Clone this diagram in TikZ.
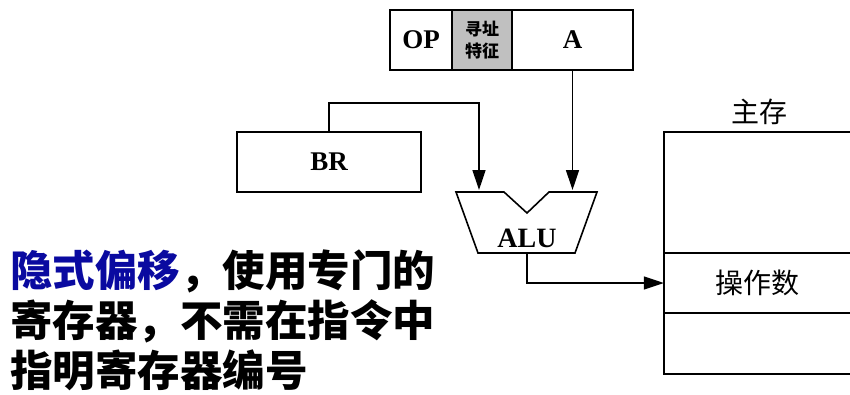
\documentclass[tikz,border=0pt]{standalone}
\usepackage{fontspec}
\setmainfont{Liberation Serif}
\newfontfamily\cjk{Noto Sans CJK SC}
\usetikzlibrary{arrows.meta}
\definecolor{notecolor}{RGB}{10,10,160}
\definecolor{modegray}{RGB}{192,192,192}
\tikzset{
>={Triangle[length=20pt,width=13pt]},
  field/.style={
    rectangle,
    draw=black, line width=1.6pt,
    minimum height=60pt,
    inner sep=0pt,
    font=\fontsize{27}{27}\selectfont\bfseries},
  memline/.style={draw, line width=1.6pt},
  line/.style={draw, line width=1.4pt, ->},
  cjklabel/.style={inner sep=0pt, font=\cjk\fontsize{28}{28}\selectfont},
  note/.style={anchor=base west, inner sep=0pt,
    font=\cjk\bfseries\fontsize{42.5}{42.5}\selectfont},
}
\begin{document}
\begin{tikzpicture}[x=1pt, y=-1pt]
     \useasboundingbox (0,0) rectangle (850,394);
     % instruction word
     \node[field, minimum width=62pt] (OpField) at (421,40) {OP};
     \node[field, minimum width=60pt, fill=modegray, align=center,
           font=\cjk\bfseries\fontsize{17}{22}\selectfont] (ModeField) at (482,40) {寻址\\特征};
     \node[field, minimum width=121pt] (AddrField) at (572.5,40) {A};
     % base register
     \node[field, minimum width=184pt] (BaseReg) at (329,162) {BR};
     % ALU
     \draw[line width=1.6pt] (456,192) -- (504,192) -- (527,213) -- (549,192) -- (597,192)
           -- (575,253) -- (478,253) -- cycle;
     \coordinate (AluInL) at (479,190);
     \coordinate (AluInR) at (572.5,190);
     \coordinate (AluOut) at (527,253);
     \node[inner sep=0pt, font=\fontsize{28}{28}\selectfont\bfseries] (Alu) at (527,238) {ALU};
     % main memory
     \path[memline] (850,132) -- (664,132) -- (664,374) -- (850,374);
     \path[memline] (664,253) -- (850,253);
     \path[memline] (664,313) -- (850,313);
     \node[cjklabel] (MainMem) at (759,112) {主存};
     \node[cjklabel, minimum width=186pt, minimum height=60pt] (Operand) at (757,283) {操作数};
     % connectors
     \draw[line] (AddrField.south) -- (AluInR);
     \draw[line] (BaseReg.north) |- (479,103) -- (AluInL);
     \draw[line] (AluOut) |- (Operand.west);
     % note
     \node[note] (NoteA) at (10,286) {\textcolor{notecolor}{隐式偏移}，使用专门的};
     \node[note] (NoteB) at (10,336) {寄存器，不需在指令中};
     \node[note] (NoteC) at (10,386) {指明寄存器编号};
\end{tikzpicture}
\end{document}
